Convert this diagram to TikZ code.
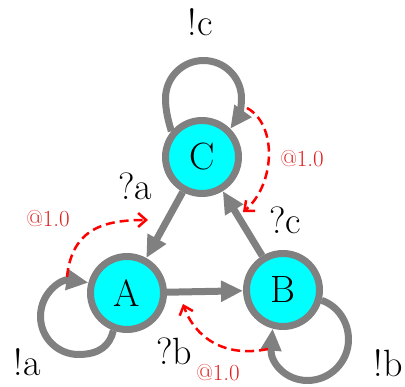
\documentclass[tikz,border=0pt]{standalone}
\usetikzlibrary{arrows.meta}
\definecolor{aqua}{RGB}{0,255,255}
\definecolor{stgray}{RGB}{128,128,128}
\definecolor{msgred}{RGB}{255,0,0}
\definecolor{lblred}{RGB}{225,30,30}
\begin{document}
\begin{tikzpicture}[x=1pt,y=-1pt,
  state/.style={circle,draw=stgray,fill=aqua,line width=7pt,minimum size=73pt,inner sep=0pt,font=\fontsize{38}{40}\selectfont},
  trans/.style={draw=stgray,line width=7pt,-{Triangle[length=22pt,width=20pt]}},
  lbl/.style={inner sep=0pt,font=\fontsize{38}{40}\selectfont},
  msg/.style={draw=msgred,line width=2.5pt,dash pattern=on 9pt off 5pt,-{Straight Barb[length=8pt,width=14pt]}},
  rl/.style={inner sep=0pt,text=lblred,font=\fontsize{23}{25}\selectfont}]
\useasboundingbox (0,0) rectangle (405,387);
\node[state] (C) at (202,157) {C};
\node[state] (A) at (127,293) {A};
\node[state] (B) at (283,290) {B};
% edges
\draw[trans] (C) -- (A);
\draw[trans] (A) -- (B);
\draw[trans] (B) -- (C);
% self loops
\draw[trans] (C.140) .. controls (168,120) and (165.5,110) .. (165.5,98.5)
  .. controls (165.5,77.5) and (182.5,60.5) .. (203.5,60.5)
  .. controls (224.5,60.5) and (241.5,77.5) .. (241.5,98.5)
  .. controls (241.5,110) and (238,118) .. (C.45);
\draw[trans] (A.-110) .. controls (110,345) and (100,354.5) .. (78.5,354.5)
  .. controls (57.5,354.5) and (40.5,337.5) .. (40.5,316.5)
  .. controls (40.5,292) and (62,279) .. (A.165);
\draw[trans] (B.-15) .. controls (338,306) and (348.5,322) .. (348.5,339.5)
  .. controls (348.5,362) and (330,380.5) .. (307.5,380.5)
  .. controls (285,380.5) and (270,362) .. (B.-105);
% labels
\node[lbl] (lc) at (200,22) {!c};
\node[lbl] (la) at (27,362) {!a};
\node[lbl] (lb) at (388,363) {!b};
\node[lbl] (qa) at (135,186) {?a};
\node[lbl] (qb) at (174,351) {?b};
\node[lbl] (qc) at (285,220) {?c};
% messages
\coordinate (m1s) at (67,277);
\coordinate (m1e) at (148,220);
\coordinate (m2s) at (247,108);
\coordinate (m2e) at (243,212);
\coordinate (m3s) at (268,349);
\coordinate (m3e) at (183,304);
\draw[msg] (m1s) .. controls (72,228) and (105,220) .. (m1e);
\draw[msg] (m2s) .. controls (278,125) and (275,185) .. (m2e);
\draw[msg] (m3s) .. controls (225,358) and (195,338) .. (m3e);
\node[rl] (r1) at (48,219) {@1.0};
\node[rl] (r2) at (302,159) {@1.0};
\node[rl] (r3) at (218,373) {@1.0};
\end{tikzpicture}
\end{document}
